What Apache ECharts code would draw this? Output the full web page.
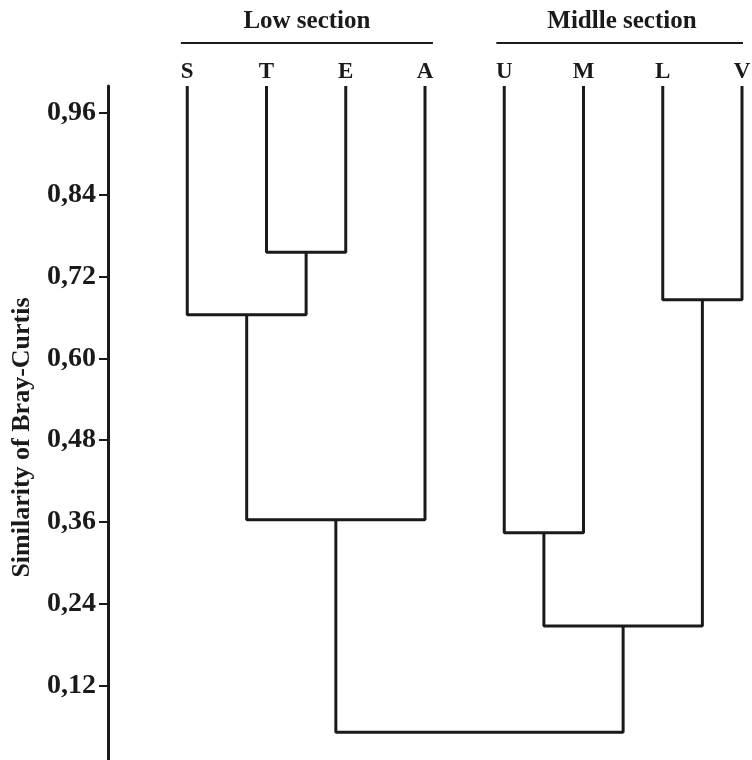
<!DOCTYPE html>
<html>
<head>
<meta charset="utf-8">
<script src="https://cdn.jsdelivr.net/npm/echarts@6/dist/echarts.min.js"></script>
<style>
  html, body { margin: 0; padding: 0; background: #fff; }
  #chart { width: 752px; height: 760px; }
</style>
</head>
<body>
<div id="chart"></div>
<script>
// leaves of the dendrogram, left to right
const leaves = ['S', 'T', 'E', 'A', 'U', 'M', 'L', 'V']
const leafHeight = 1.0
// merges: [left node, right node, similarity]; node ids 0-7 are leaves, 8+ are merges in order
const merges = [
  [1, 2, 0.756],   // 8  T+E
  [0, 8, 0.664],   // 9  S+(TE)
  [9, 3, 0.363],   // 10 (STE)+A
  [4, 5, 0.344],   // 11 U+M
  [6, 7, 0.686],   // 12 L+V
  [11, 12, 0.207], // 13 (UM)+(LV)
  [10, 13, 0.051], // 14 root
]
const yTicks = [0.12, 0.24, 0.36, 0.48, 0.60, 0.72, 0.84, 0.96]
const sectionNames = ['Low section', 'Midlle section']
const sectionSpans = [[-0.08, 3.1], [3.9, 7.07]]
const sectionLineLevel = 1.063
const sectionTitleLevel = 1.094

const ink = '#1a1a1a'
const font = 'Liberation Serif'

// node positions (x = leaf index, y = similarity)
let nodeX = leaves.map((_, i) => i)
let nodeY = leaves.map(() => leafHeight)
let linkSeries = []
merges.forEach(m => {
  let [a, b, h] = m
  linkSeries.push({
    type: 'line',
    data: [[nodeX[a], nodeY[a]], [nodeX[a], h], [nodeX[b], h], [nodeX[b], nodeY[b]]],
    symbol: 'none',
    silent: true,
    lineStyle: { color: ink, width: 3 },
  })
  nodeX.push((nodeX[a] + nodeX[b]) / 2)
  nodeY.push(h)
})

// section brackets above the leaves
let sectionSeries = sectionSpans.map(s => ({
  type: 'line',
  data: [[s[0], sectionLineLevel], [s[1], sectionLineLevel]],
  symbol: 'none',
  silent: true,
  clip: false,
  lineStyle: { color: ink, width: 2 },
}))
sectionSeries.push({
  type: 'scatter',
  symbolSize: 0,
  clip: false,
  silent: true,
  itemStyle: { opacity: 1 },
  data: sectionNames.map((n, i) => ({
    name: n,
    value: [(sectionSpans[i][0] + sectionSpans[i][1]) / 2, sectionTitleLevel],
  })),
  label: {
    show: true,
    position: 'inside',
    formatter: p => p.name,
    color: ink,
    opacity: 1,
    fontFamily: font,
    fontWeight: 'bold',
    fontSize: 25,
  },
})

let mycharts = echarts.init(document.getElementById('chart'))
mycharts.setOption({
  animation: false,
  backgroundColor: '#fff',
  grid: { left: 108, top: 86, width: 634, height: 681, outerBoundsMode: 'none', containLabel: false },
  xAxis: {
    type: 'value',
    position: 'top',
    min: -1,
    max: 7,
    interval: 1,
    splitLine: { show: false },
    axisLine: { show: false },
    axisTick: { show: false },
    axisLabel: {
      margin: 2,
      formatter: v => leaves[v] || '',
      color: ink,
      fontFamily: font,
      fontWeight: 'bold',
      fontSize: 23,
    },
  },
  yAxis: {
    type: 'value',
    min: 0,
    max: 1.0,
    splitLine: { show: false },
    axisLine: { show: true, onZero: false, lineStyle: { color: ink, width: 3 } },
    axisTick: { show: true, customValues: yTicks, length: 9, lineStyle: { color: ink, width: 2 } },
    axisLabel: {
      customValues: yTicks,
      margin: 12,
      formatter: v => v.toFixed(2).replace('.', ','),
      color: ink,
      fontFamily: font,
      fontWeight: 'bold',
      fontSize: 28,
    },
    name: 'Similarity of Bray-Curtis',
    nameLocation: 'middle',
    nameRotate: 90,
    nameGap: 73,
    nameTextStyle: {
      color: ink,
      fontFamily: font,
      fontWeight: 'bold',
      fontSize: 26,
      padding: [0, 22, 0, 0],
    },
  },
  series: linkSeries.concat(sectionSeries),
})
</script>
</body>
</html>
